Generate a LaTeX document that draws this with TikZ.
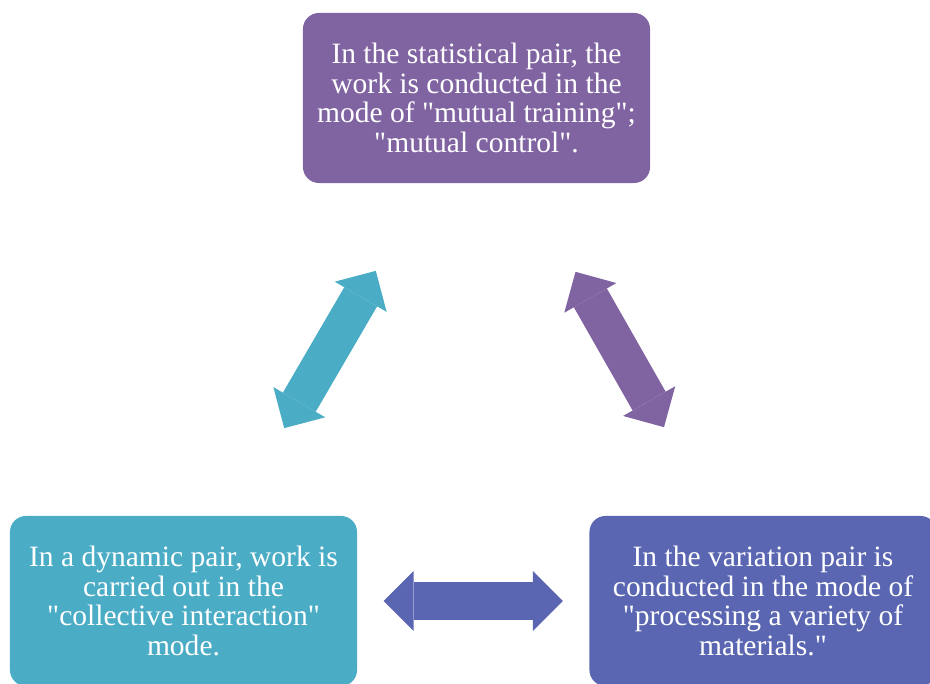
\documentclass[tikz,border=0pt]{standalone}
\usepackage{fontspec}
\setmainfont{Liberation Serif}
\usetikzlibrary{arrows.meta}

\definecolor{pairaqua}{HTML}{4BACC6}
\definecolor{pairviolet}{HTML}{8064A2}
\definecolor{pairblue}{HTML}{5A66B1}

% Straight double quote
\def\q{\textquotedbl}

\begin{document}
\begin{tikzpicture}[x=0.025cm, y=0.025cm,
  pairbox/.style={rounded corners=0.4cm, minimum width=8.675cm, minimum height=4.25cm,
    align=center, text=white, inner sep=0pt, font=\fontsize{21}{21}\selectfont},
  pairlink/.style={line width=0.95cm, shorten <=5cm, shorten >=5cm,
    {Triangle[width=1.5cm,length=0.75cm,line width=0pt]}-{Triangle[width=1.5cm,length=0.75cm,line width=0pt]}}]

\useasboundingbox (0,0) rectangle (930,684);
\clip (0,0) rectangle (930,684);

% The three kinds of pairs
\node[pairbox, fill=pairviolet] (stat) at (476.5,586)
  {In the statistical pair, the\\ work is conducted in the\\ mode of \q mutual training\q;\\ \q mutual control\q.};
\node[pairbox, fill=pairaqua] (dyn) at (183.5,83)
  {In a dynamic pair, work is\\ carried out in the\\ \q collective interaction\q\\ mode.};
\node[pairbox, fill=pairblue] (var) at (763,83)
  {In the variation pair is\\ conducted in the mode of\\ \q processing a variety of\\ materials.\q};

% Double arrows between the pairs
\foreach \a/\b/\c in {dyn/stat/pairaqua, var/stat/pairviolet, dyn/var/pairblue}
  \draw[pairlink, \c] (\a.center) -- (\b.center);

\end{tikzpicture}
\end{document}
